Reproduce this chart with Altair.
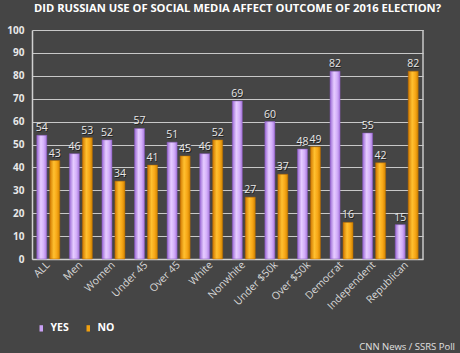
import altair as alt
import pandas as pd

categories = ["ALL", "Men", "Women", "Under 45", "Over 45", "White", "Nonwhite",
              "Under $50k", "Over $50k", "Democrat", "Independent", "Republican"]
yes_values = [54, 46, 52, 57, 51, 46, 69, 60, 48, 82, 55, 15]
no_values = [43, 53, 34, 41, 45, 52, 27, 37, 49, 16, 42, 82]
series = ["YES", "NO"]

rows = []
for c, y, n in zip(categories, yes_values, no_values):
    rows.append({"group": c, "answer": "YES", "value": y})
    rows.append({"group": c, "answer": "NO", "value": n})
df = pd.DataFrame(rows)

BG = "#454545"
purple_grad = alt.Gradient(
    gradient="linear", x1=0, x2=1, y1=0, y2=0,
    stops=[alt.GradientStop(color="#9a68d6", offset=0),
           alt.GradientStop(color="#e6ccff", offset=0.4),
           alt.GradientStop(color="#d4b0fa", offset=0.7),
           alt.GradientStop(color="#a878de", offset=1)])
orange_grad = alt.Gradient(
    gradient="linear", x1=0, x2=1, y1=0, y2=0,
    stops=[alt.GradientStop(color="#d07800", offset=0),
           alt.GradientStop(color="#ffc030", offset=0.4),
           alt.GradientStop(color="#f8a818", offset=0.7),
           alt.GradientStop(color="#d08400", offset=1)])

x_enc = alt.X("group:N", sort=categories,
              scale=alt.Scale(paddingInner=0, paddingOuter=0),
              axis=alt.Axis(title=None, labelAngle=-45, labelAlign="right",
                            labelBaseline="middle", labelColor="#d8d8d8",
                            labelFont="Open Sans", labelFontSize=10.5,
                            labelPadding=4, ticks=False, domainColor="#d0d0d0",
                            domainWidth=1.5, grid=False))
xoff_enc = alt.XOffset("answer:N", sort=series,
                       scale=alt.Scale(domain=series, paddingInner=0.23,
                                       paddingOuter=0.37))
y_enc = alt.Y("value:Q", scale=alt.Scale(domain=[0, 100]),
              axis=alt.Axis(title=None, values=list(range(0, 101, 10)),
                            labelColor="#e8e8e8", labelFont="Open Sans",
                            labelFontWeight="bold", labelFontSize=10,
                            ticks=False, labelPadding=8,
                            gridColor="#c8c8c8", gridWidth=1.2,
                            domainColor="#d0d0d0", domainWidth=1.5))

base = alt.Chart(df).encode(x=x_enc, xOffset=xoff_enc, y=y_enc)

bars_yes = base.transform_filter(alt.datum.answer == "YES").mark_bar(
    color=purple_grad, stroke="#8a5cc0", strokeWidth=0.5)
bars_no = base.transform_filter(alt.datum.answer == "NO").mark_bar(
    color=orange_grad, stroke="#b86a00", strokeWidth=0.5)

labels_shadow = base.mark_text(dy=-6, dx=0.8, fontSize=10.5, font="Open Sans",
                               color="#202020").encode(text="value:Q")
labels = base.mark_text(dy=-7, fontSize=10.5, font="Open Sans",
                        color="#e8e8e8").encode(text="value:Q")

legend_layer = base.mark_square(opacity=0).encode(
    color=alt.Color("answer:N", sort=series,
                    scale=alt.Scale(domain=series, range=["#c9a0f4", "#f0a010"]),
                    legend=alt.Legend(title=None, orient="none", legendX=4,
                                      legendY=293, direction="horizontal",
                                      symbolType="M-0.55,-1V1H0.55V-1Z",
                                      symbolSize=40, symbolOpacity=1,
                                      symbolStrokeWidth=0,
                                      labelColor="#ffffff", labelFont="Open Sans",
                                      labelFontWeight="bold", labelFontSize=10.5,
                                      columnPadding=14, labelOffset=4)))

footer = alt.Chart(pd.DataFrame({"t": ["CNN News / SSRS Poll"]})).mark_text(
    align="right", baseline="middle", fontSize=9.5, font="Open Sans",
    color="#e0e0e0").encode(text="t:N", x=alt.value(423), y=alt.value(317))

frame = alt.Chart(pd.DataFrame({"a": [0]})).mark_rule(
    color="#c8c8c8", strokeWidth=1.5).encode(x=alt.value(391), y=alt.value(0),
                                             y2=alt.value(229))

chart = alt.layer(frame, bars_yes, bars_no, labels_shadow, labels,
                  legend_layer, footer).properties(
    width=391, height=229,
    padding={"left": 32, "top": 30, "right": 37, "bottom": 94},
    autosize=alt.AutoSizeParams(type="none"),
    background=BG,
    title=alt.TitleParams("DID RUSSIAN USE OF SOCIAL MEDIA AFFECT OUTCOME OF 2016 ELECTION?",
                          color="#ffffff", font="Open Sans", fontWeight="bold",
                          fontSize=11.2, anchor="middle", dx=10, offset=11),
).configure_view(stroke=None).configure_axis(labelOverlap=False)

chart.save("out.html", embed_options={"renderer": "svg", "actions": False})
